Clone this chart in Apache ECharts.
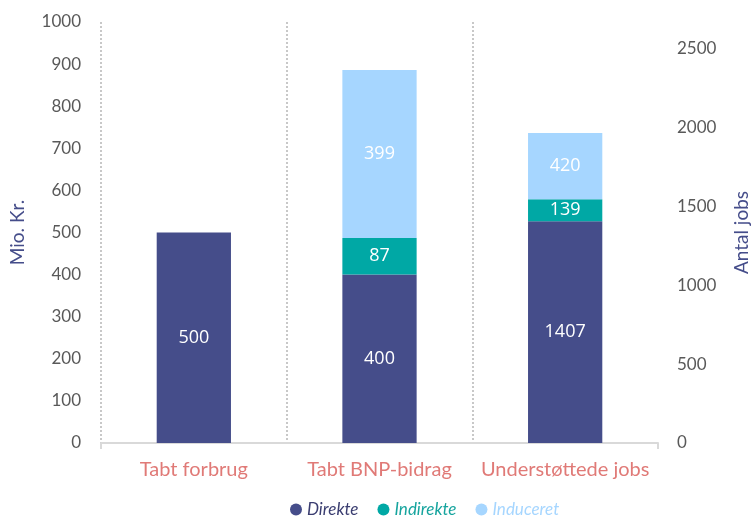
<!DOCTYPE html>
<html><head><meta charset="utf-8">
<script src="https://cdn.jsdelivr.net/npm/echarts@6/dist/echarts.min.js"></script>
<style>html,body{margin:0;padding:0;background:#fff}#c{width:752px;height:519px}</style>
</head><body><div id="c"></div>
<script>
const categories = ['Tabt forbrug', 'Tabt BNP-bidrag', 'Understøttede jobs'];
const direkte = [500, 400, 1407];
const indirekte = [null, 87, 139];
const induceret = [null, 399, 420];
// which value axis each category is measured on (0 = Mio. Kr., 1 = Antal jobs)
const axisOf = [0, 0, 1];
const leftTicks = [0, 100, 200, 300, 400, 500, 600, 700, 800, 900, 1000];
const rightTicks = [0, 500, 1000, 1500, 2000, 2500];

const colors = { Direkte: '#454D8A', Indirekte: '#00A8A5', Induceret: '#A6D6FF' };
const legendText = { Direkte: '#3A3D70', Indirekte: '#16A49E', Induceret: '#A6D6FF' };
const seriesDefs = [['Direkte', direkte], ['Indirekte', indirekte], ['Induceret', induceret]];

const series = [];
[0, 1].forEach(ax => {
  seriesDefs.forEach(([name, vals]) => {
    series.push({
      name, type: 'bar', stack: 'ax' + ax, yAxisIndex: ax,
      barWidth: '40%', barGap: '-100%',
      itemStyle: { color: colors[name] },
      label: { show: true, position: 'inside', color: '#fff', fontFamily: 'Open Sans', fontSize: 18 },
      data: vals.map((v, i) => axisOf[i] === ax ? v : null)
    });
  });
});

const chart = echarts.init(document.getElementById('c'));
chart.setOption({
  animation: false,
  textStyle: { fontFamily: 'Lato' },
  grid: { left: 101, right: 94, top: 22, bottom: 76, outerBoundsMode: 'none', containLabel: false },
  legend: {
    top: 496, left: 285, icon: 'circle', itemWidth: 12, itemHeight: 12, itemGap: 19,
    data: seriesDefs.map(d => ({ name: d[0], textStyle: { color: legendText[d[0]] } })),
    textStyle: { fontFamily: 'Lato', fontStyle: 'italic', fontSize: 17 }
  },
  xAxis: {
    type: 'category', data: categories,
    axisLine: { lineStyle: { color: '#D9D9D9', width: 2 } },
    axisTick: { show: true, length: 6, lineStyle: { color: '#D9D9D9', width: 2 }, interval: (i) => i >= 2 },
    axisLabel: { color: '#E07A77', fontSize: 20, margin: 17, fontFamily: 'Lato', interval: 0 },
    splitLine: { show: true, interval: 0, showMaxLine: false, lineStyle: { color: '#C8C8C8', type: 'dotted', width: 2 } }
  },
  yAxis: [{
    type: 'value', min: leftTicks[0], max: leftTicks[leftTicks.length - 1], interval: leftTicks[1] - leftTicks[0],
    name: 'Mio. Kr.', nameLocation: 'middle', nameGap: 74,
    nameTextStyle: { color: '#454D8A', fontSize: 19, fontFamily: 'Lato' },
    axisLine: { show: false }, axisTick: { show: false }, splitLine: { show: false },
    axisLabel: { color: '#595959', fontSize: 17, margin: 20, formatter: v => String(v) }
  }, {
    type: 'value', min: rightTicks[0], max: 2670, interval: rightTicks[1] - rightTicks[0],
    name: 'Antal jobs', nameLocation: 'middle', nameGap: 74,
    nameTextStyle: { color: '#454D8A', fontSize: 19, fontFamily: 'Lato' },
    axisLine: { show: false }, axisTick: { show: false }, splitLine: { show: false },
    axisLabel: { color: '#595959', fontSize: 17, margin: 19, showMaxLabel: false,
      formatter: v => rightTicks.indexOf(v) >= 0 ? String(v) : '' }
  }],
  series
});
</script></body></html>
